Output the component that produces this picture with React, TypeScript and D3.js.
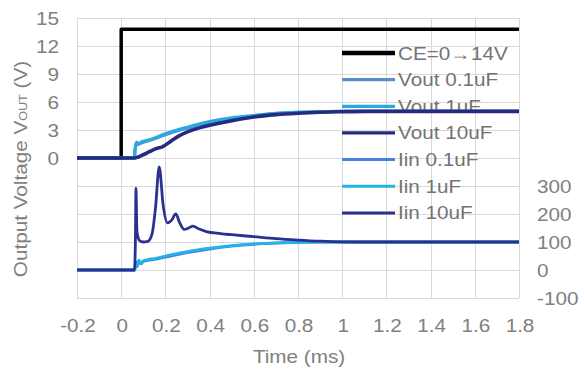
import React from "react";
import * as d3 from "d3";

type Pt = [number, number];

// x tick values (ms)
const xTicks = [-0.2, 0, 0.2, 0.4, 0.6, 0.8, 1, 1.2, 1.4, 1.6, 1.8];
// left axis (V)
const vGrid = [-15, -12, -9, -6, -3, 0, 3, 6, 9, 12, 15];
const vTickLabels = [0, 3, 6, 9, 12, 15];
// right axis (mA)
const iTickLabels = [-100, 0, 100, 200, 300];

const ceData: Pt[] = [
  [-0.2, 0], [0, 0], [0, 13.8], [1.8, 13.8],
];

const vout01Data: Pt[] = [
  [-0.2, 0], [0.06, 0], [0.063, 0.9], [0.07, 1.6], [0.076, 1.45], [0.09, 1.6], [0.13, 1.9],
  [0.2, 2.5], [0.26, 2.95], [0.3, 3.2], [0.4, 3.8], [0.5, 4.2], [0.6, 4.5], [0.7, 4.75],
  [0.8, 4.88], [0.9, 4.95], [1.0, 5.0], [1.2, 5.0], [1.8, 5.0],
];
const vout1Data: Pt[] = [
  [-0.2, 0], [0.06, 0], [0.063, 1.0], [0.07, 1.7], [0.076, 1.5], [0.09, 1.7], [0.13, 1.95],
  [0.2, 2.6], [0.26, 3.05], [0.3, 3.3], [0.4, 3.9], [0.5, 4.3], [0.6, 4.55], [0.7, 4.78],
  [0.8, 4.9], [0.9, 4.96], [1.0, 5.0], [1.2, 5.0], [1.8, 5.0],
];
const vout10Data: Pt[] = [
  [-0.2, 0], [0.055, 0], [0.1, 0.35], [0.13, 0.7], [0.158, 1.0], [0.186, 1.2], [0.225, 1.8],
  [0.26, 2.35], [0.3, 2.8], [0.35, 3.2], [0.4, 3.5], [0.5, 4.0], [0.6, 4.4], [0.7, 4.65],
  [0.8, 4.8], [0.9, 4.9], [1.0, 4.96], [1.1, 5.0], [1.8, 5.0],
];

const iin01Data: Pt[] = [
  [-0.2, 0], [0.062, 0], [0.066, 25], [0.072, 12], [0.08, 30], [0.09, 22], [0.1, 30],
  [0.12, 34], [0.15, 38], [0.2, 46], [0.3, 62], [0.4, 75], [0.5, 85], [0.6, 92],
  [0.7, 96], [0.8, 98.5], [0.9, 99.5], [1.0, 100], [1.8, 100],
];
const iin1Data: Pt[] = [
  [-0.2, 0], [0.062, 0], [0.066, 30], [0.072, 14], [0.08, 35], [0.09, 25], [0.1, 33],
  [0.12, 37], [0.15, 41], [0.2, 50], [0.26, 60], [0.3, 66], [0.4, 78], [0.5, 87], [0.6, 93],
  [0.7, 97], [0.8, 99], [0.9, 100], [1.0, 100], [1.8, 100],
];
const iin10Data: Pt[] = [
  [-0.2, 0], [0.06, 0], [0.064, 90], [0.067, 292], [0.071, 140], [0.078, 112], [0.085, 104],
  [0.1, 100], [0.12, 102], [0.14, 130], [0.155, 220], [0.172, 368], [0.19, 230], [0.21, 168],
  [0.228, 178], [0.247, 200], [0.265, 168], [0.285, 145], [0.305, 150], [0.325, 157],
  [0.35, 147], [0.385, 137], [0.45, 130], [0.5, 126], [0.6, 119], [0.7, 112], [0.8, 107],
  [0.9, 103], [1.0, 100.5], [1.1, 100], [1.8, 100],
];

const seriesNames = [
  "CE=0\u219214V", "Vout 0.1uF", "Vout 1uF", "Vout 10uF", "Iin 0.1uF", "Iin 1uF", "Iin 10uF",
];
const seriesColors = ["#000000", "#5a8fcc", "#2aa8e0", "#252b80", "#4a80dc", "#22b4e8", "#2a3190"];

const L = 77, R = 519, T = 18, B = 298;
const FS = 18;
const SX = 1.15;
const textGray = "#808080";

export default function App() {
  const x = d3.scaleLinear().domain([-0.2, 1.8]).range([L, R]);
  const yV = d3.scaleLinear().domain([-15, 15]).range([B, T]);
  const yI = d3.scaleLinear().domain([-100, 900]).range([B, T]);

  const lineV = d3.line<Pt>().x((d) => x(d[0])).y((d) => yV(d[1]));
  const lineVs = d3.line<Pt>().x((d) => x(d[0])).y((d) => yV(d[1])).curve(d3.curveMonotoneX);
  const lineIs = d3.line<Pt>().x((d) => x(d[0])).y((d) => yI(d[1])).curve(d3.curveMonotoneX);

  const fmt = (v: number) => String(+v.toFixed(1));

  const legendWidths = [4.5, 3.2, 3.2, 3.2, 3, 3, 3];
  const lineWidths = [3.5, 3.2, 3.2, 3.6, 2.8, 2.8, 2.8];

  const seriesPaths = [
    lineV(ceData),
    lineVs(vout01Data),
    lineVs(vout1Data),
    lineVs(vout10Data),
    lineIs(iin01Data),
    lineIs(iin1Data),
    lineIs(iin10Data),
  ];

  return (
    <svg
      width={584}
      height={370}
      style={{ position: "absolute", left: 0, top: 0, background: "#fff" }}
      fontFamily="'Liberation Sans', Arial, sans-serif"
    >
      <rect x={0} y={0} width={584} height={370} fill="#fff" />
      {/* grid */}
      <g stroke="#d9d9d9" strokeWidth={1}>
        {vGrid.map((v) => (
          <line key={"h" + v} x1={L} x2={R} y1={Math.round(yV(v)) + 0.5} y2={Math.round(yV(v)) + 0.5} />
        ))}
        {xTicks.map((t) => (
          <line key={"v" + t} x1={Math.round(x(t)) + 0.5} x2={Math.round(x(t)) + 0.5} y1={T} y2={B} />
        ))}
      </g>
      {/* left tick labels */}
      <g fill={textGray} fontSize={FS}>
        {vTickLabels.map((v) => (
          <text key={"lv" + v} transform={`translate(59,${yV(v) + 7}) scale(${SX},1)`} textAnchor="end">
            {v}
          </text>
        ))}
        {iTickLabels.map((v) => (
          <text key={"ri" + v} transform={`translate(537,${yI(v) + 7}) scale(${SX},1)`} textAnchor="start">
            {v}
          </text>
        ))}
        {xTicks.map((t) => (
          <text key={"xt" + t} transform={`translate(${x(t) + 1},332) scale(${SX},1)`} textAnchor="middle">
            {fmt(t)}
          </text>
        ))}
        <text transform={`translate(299,363) scale(${SX},1)`} textAnchor="middle">
          Time (ms)
        </text>
        <text transform={`translate(27,169) rotate(-90) scale(${SX},1)`} textAnchor="middle">
          Output Voltage V<tspan fontSize={11}>OUT</tspan> (V)
        </text>
      </g>
      {/* legend */}
      <g>
        {seriesNames.map((n, i) => {
          const cy = 53 + i * 26.65;
          return (
            <g key={n}>
              <line x1={342} x2={395} y1={cy} y2={cy} stroke={seriesColors[i]} strokeWidth={legendWidths[i]} />
              <text
                transform={`translate(398,${cy + 6.5}) scale(${SX},1)`}
                fill="#737373"
                fontSize={FS}
              >
                {n}
              </text>
            </g>
          );
        })}
      </g>
      {/* series */}
      <g fill="none" strokeLinejoin="round" strokeLinecap="butt">
        {seriesPaths.map((p, i) => (
          <path key={i} d={p || ""} stroke={seriesColors[i]} strokeWidth={lineWidths[i]} />
        ))}
      </g>
    </svg>
  );
}
